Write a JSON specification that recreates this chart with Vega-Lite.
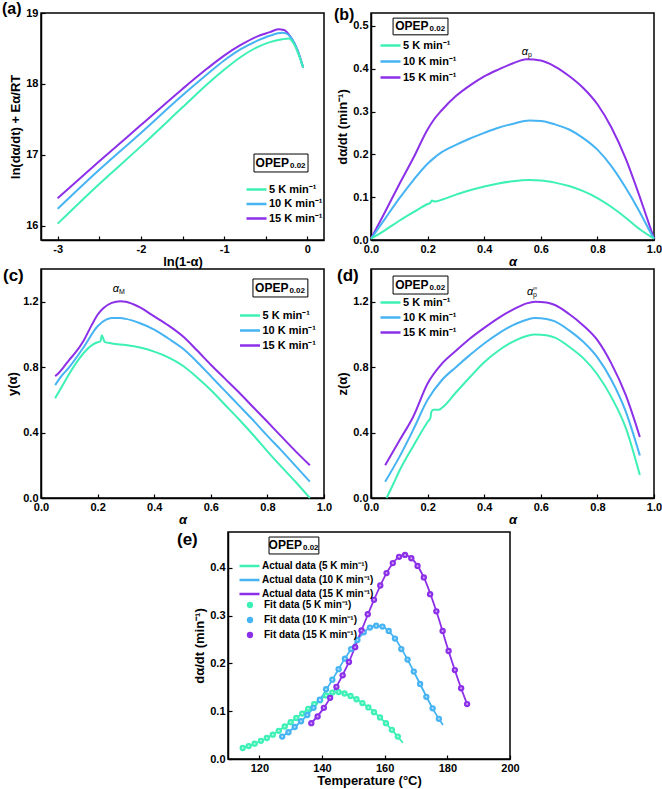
{
"$schema": "https://vega.github.io/schema/vega-lite/v6.json",
"background": "white",
"padding": {"left": 1, "top": 0, "right": 0, "bottom": 0},
"config": {
 "view": {"stroke": "black", "strokeWidth": 1.5},
 "font": "Liberation Sans",
 "axis": {"labelFont": "Liberation Sans", "labelFontWeight": "bold", "labelFontSize": 11, "labelColor": "black", "titleFont": "Liberation Sans", "titleFontWeight": "bold", "titleFontSize": 13, "titleColor": "black", "grid": false, "domainColor": "black", "domainWidth": 1.5, "tickColor": "black", "tickSize": -4, "tickWidth": 1.2, "labelPadding": 7, "labelOverlap": false, "labelFlush": false},
 "axisX": {"titlePadding": 1},
 "axisY": {"titlePadding": 3},
 "legend": {"labelFont": "Liberation Sans", "labelFontWeight": "bold", "labelFontSize": 11, "labelColor": "black", "symbolStrokeWidth": 2.5, "padding": 0, "titlePadding": 0, "labelLimit": 300},
 "title": {"font": "Liberation Sans", "fontWeight": "bold", "fontSize": 17, "color": "black", "anchor": "start", "frame": "group", "baseline": "top"}
},
"datasets": {
 "a": [
  {"x": -3.0, "y": 16.39, "r": "15 K min⁻¹"}, {"x": -2.5, "y": 16.91, "r": "15 K min⁻¹"}, {"x": -2.0, "y": 17.42, "r": "15 K min⁻¹"}, {"x": -1.5, "y": 17.93, "r": "15 K min⁻¹"}, {"x": -1.2, "y": 18.22, "r": "15 K min⁻¹"}, {"x": -1.0, "y": 18.40, "r": "15 K min⁻¹"}, {"x": -0.8, "y": 18.55, "r": "15 K min⁻¹"}, {"x": -0.6, "y": 18.67, "r": "15 K min⁻¹"}, {"x": -0.45, "y": 18.73, "r": "15 K min⁻¹"}, {"x": -0.35, "y": 18.77, "r": "15 K min⁻¹"}, {"x": -0.28, "y": 18.76, "r": "15 K min⁻¹"}, {"x": -0.2, "y": 18.66, "r": "15 K min⁻¹"}, {"x": -0.12, "y": 18.48, "r": "15 K min⁻¹"}, {"x": -0.05, "y": 18.23, "r": "15 K min⁻¹"},
  {"x": -3.0, "y": 16.24, "r": "10 K min⁻¹"}, {"x": -2.5, "y": 16.79, "r": "10 K min⁻¹"}, {"x": -2.0, "y": 17.31, "r": "10 K min⁻¹"}, {"x": -1.5, "y": 17.84, "r": "10 K min⁻¹"}, {"x": -1.2, "y": 18.14, "r": "10 K min⁻¹"}, {"x": -1.0, "y": 18.33, "r": "10 K min⁻¹"}, {"x": -0.8, "y": 18.49, "r": "10 K min⁻¹"}, {"x": -0.6, "y": 18.61, "r": "10 K min⁻¹"}, {"x": -0.45, "y": 18.68, "r": "10 K min⁻¹"}, {"x": -0.3, "y": 18.72, "r": "10 K min⁻¹"}, {"x": -0.25, "y": 18.71, "r": "10 K min⁻¹"}, {"x": -0.2, "y": 18.66, "r": "10 K min⁻¹"}, {"x": -0.12, "y": 18.48, "r": "10 K min⁻¹"}, {"x": -0.05, "y": 18.23, "r": "10 K min⁻¹"},
  {"x": -3.0, "y": 16.03, "r": "5 K min⁻¹"}, {"x": -2.5, "y": 16.59, "r": "5 K min⁻¹"}, {"x": -2.0, "y": 17.12, "r": "5 K min⁻¹"}, {"x": -1.5, "y": 17.67, "r": "5 K min⁻¹"}, {"x": -1.2, "y": 18.00, "r": "5 K min⁻¹"}, {"x": -1.0, "y": 18.20, "r": "5 K min⁻¹"}, {"x": -0.8, "y": 18.38, "r": "5 K min⁻¹"}, {"x": -0.6, "y": 18.52, "r": "5 K min⁻¹"}, {"x": -0.45, "y": 18.59, "r": "5 K min⁻¹"}, {"x": -0.3, "y": 18.63, "r": "5 K min⁻¹"}, {"x": -0.22, "y": 18.64, "r": "5 K min⁻¹"}, {"x": -0.17, "y": 18.58, "r": "5 K min⁻¹"}, {"x": -0.12, "y": 18.46, "r": "5 K min⁻¹"}, {"x": -0.05, "y": 18.23, "r": "5 K min⁻¹"}
 ],
 "b": [
  {"x": 0.0, "y": 0.003, "r": "15 K min⁻¹"}, {"x": 0.05, "y": 0.066, "r": "15 K min⁻¹"}, {"x": 0.1, "y": 0.13, "r": "15 K min⁻¹"}, {"x": 0.15, "y": 0.192, "r": "15 K min⁻¹"}, {"x": 0.2, "y": 0.258, "r": "15 K min⁻¹"}, {"x": 0.22, "y": 0.279, "r": "15 K min⁻¹"}, {"x": 0.25, "y": 0.303, "r": "15 K min⁻¹"}, {"x": 0.3, "y": 0.336, "r": "15 K min⁻¹"}, {"x": 0.35, "y": 0.361, "r": "15 K min⁻¹"}, {"x": 0.4, "y": 0.382, "r": "15 K min⁻¹"}, {"x": 0.45, "y": 0.398, "r": "15 K min⁻¹"}, {"x": 0.5, "y": 0.412, "r": "15 K min⁻¹"}, {"x": 0.55, "y": 0.422, "r": "15 K min⁻¹"}, {"x": 0.6, "y": 0.419, "r": "15 K min⁻¹"}, {"x": 0.65, "y": 0.405, "r": "15 K min⁻¹"}, {"x": 0.7, "y": 0.383, "r": "15 K min⁻¹"}, {"x": 0.75, "y": 0.355, "r": "15 K min⁻¹"}, {"x": 0.8, "y": 0.317, "r": "15 K min⁻¹"}, {"x": 0.85, "y": 0.262, "r": "15 K min⁻¹"}, {"x": 0.9, "y": 0.19, "r": "15 K min⁻¹"}, {"x": 0.95, "y": 0.1, "r": "15 K min⁻¹"}, {"x": 0.98, "y": 0.042, "r": "15 K min⁻¹"}, {"x": 1.0, "y": 0.003, "r": "15 K min⁻¹"},
  {"x": 0.0, "y": 0.003, "r": "10 K min⁻¹"}, {"x": 0.05, "y": 0.05, "r": "10 K min⁻¹"}, {"x": 0.1, "y": 0.097, "r": "10 K min⁻¹"}, {"x": 0.15, "y": 0.14, "r": "10 K min⁻¹"}, {"x": 0.2, "y": 0.178, "r": "10 K min⁻¹"}, {"x": 0.22, "y": 0.19, "r": "10 K min⁻¹"}, {"x": 0.25, "y": 0.205, "r": "10 K min⁻¹"}, {"x": 0.3, "y": 0.222, "r": "10 K min⁻¹"}, {"x": 0.35, "y": 0.237, "r": "10 K min⁻¹"}, {"x": 0.4, "y": 0.25, "r": "10 K min⁻¹"}, {"x": 0.45, "y": 0.262, "r": "10 K min⁻¹"}, {"x": 0.5, "y": 0.271, "r": "10 K min⁻¹"}, {"x": 0.56, "y": 0.279, "r": "10 K min⁻¹"}, {"x": 0.6, "y": 0.278, "r": "10 K min⁻¹"}, {"x": 0.65, "y": 0.27, "r": "10 K min⁻¹"}, {"x": 0.7, "y": 0.258, "r": "10 K min⁻¹"}, {"x": 0.75, "y": 0.238, "r": "10 K min⁻¹"}, {"x": 0.8, "y": 0.211, "r": "10 K min⁻¹"}, {"x": 0.85, "y": 0.172, "r": "10 K min⁻¹"}, {"x": 0.9, "y": 0.122, "r": "10 K min⁻¹"}, {"x": 0.95, "y": 0.065, "r": "10 K min⁻¹"}, {"x": 0.98, "y": 0.027, "r": "10 K min⁻¹"}, {"x": 1.0, "y": 0.003, "r": "10 K min⁻¹"},
  {"x": 0.0, "y": 0.003, "r": "5 K min⁻¹"}, {"x": 0.05, "y": 0.023, "r": "5 K min⁻¹"}, {"x": 0.1, "y": 0.045, "r": "5 K min⁻¹"}, {"x": 0.15, "y": 0.065, "r": "5 K min⁻¹"}, {"x": 0.2, "y": 0.084, "r": "5 K min⁻¹"}, {"x": 0.21, "y": 0.087, "r": "5 K min⁻¹"}, {"x": 0.215, "y": 0.092, "r": "5 K min⁻¹"}, {"x": 0.225, "y": 0.09, "r": "5 K min⁻¹"}, {"x": 0.25, "y": 0.094, "r": "5 K min⁻¹"}, {"x": 0.3, "y": 0.106, "r": "5 K min⁻¹"}, {"x": 0.35, "y": 0.116, "r": "5 K min⁻¹"}, {"x": 0.4, "y": 0.125, "r": "5 K min⁻¹"}, {"x": 0.45, "y": 0.132, "r": "5 K min⁻¹"}, {"x": 0.5, "y": 0.137, "r": "5 K min⁻¹"}, {"x": 0.56, "y": 0.14, "r": "5 K min⁻¹"}, {"x": 0.6, "y": 0.139, "r": "5 K min⁻¹"}, {"x": 0.65, "y": 0.134, "r": "5 K min⁻¹"}, {"x": 0.7, "y": 0.126, "r": "5 K min⁻¹"}, {"x": 0.75, "y": 0.114, "r": "5 K min⁻¹"}, {"x": 0.8, "y": 0.098, "r": "5 K min⁻¹"}, {"x": 0.85, "y": 0.077, "r": "5 K min⁻¹"}, {"x": 0.9, "y": 0.052, "r": "5 K min⁻¹"}, {"x": 0.95, "y": 0.025, "r": "5 K min⁻¹"}, {"x": 1.0, "y": 0.003, "r": "5 K min⁻¹"}
 ],
 "c": [
  {"x": 0.05, "y": 0.745, "r": "15 K min⁻¹"}, {"x": 0.06, "y": 0.76, "r": "15 K min⁻¹"}, {"x": 0.08, "y": 0.8, "r": "15 K min⁻¹"}, {"x": 0.1, "y": 0.845, "r": "15 K min⁻¹"}, {"x": 0.12, "y": 0.885, "r": "15 K min⁻¹"}, {"x": 0.15, "y": 0.96, "r": "15 K min⁻¹"}, {"x": 0.18, "y": 1.06, "r": "15 K min⁻¹"}, {"x": 0.2, "y": 1.12, "r": "15 K min⁻¹"}, {"x": 0.22, "y": 1.16, "r": "15 K min⁻¹"}, {"x": 0.25, "y": 1.193, "r": "15 K min⁻¹"}, {"x": 0.28, "y": 1.203, "r": "15 K min⁻¹"}, {"x": 0.3, "y": 1.2, "r": "15 K min⁻¹"}, {"x": 0.35, "y": 1.165, "r": "15 K min⁻¹"}, {"x": 0.4, "y": 1.11, "r": "15 K min⁻¹"}, {"x": 0.45, "y": 1.055, "r": "15 K min⁻¹"}, {"x": 0.5, "y": 0.99, "r": "15 K min⁻¹"}, {"x": 0.55, "y": 0.905, "r": "15 K min⁻¹"}, {"x": 0.6, "y": 0.815, "r": "15 K min⁻¹"}, {"x": 0.65, "y": 0.73, "r": "15 K min⁻¹"}, {"x": 0.7, "y": 0.645, "r": "15 K min⁻¹"}, {"x": 0.75, "y": 0.555, "r": "15 K min⁻¹"}, {"x": 0.8, "y": 0.466, "r": "15 K min⁻¹"}, {"x": 0.85, "y": 0.375, "r": "15 K min⁻¹"}, {"x": 0.9, "y": 0.285, "r": "15 K min⁻¹"}, {"x": 0.95, "y": 0.2, "r": "15 K min⁻¹"},
  {"x": 0.05, "y": 0.69, "r": "10 K min⁻¹"}, {"x": 0.07, "y": 0.74, "r": "10 K min⁻¹"}, {"x": 0.1, "y": 0.8, "r": "10 K min⁻¹"}, {"x": 0.15, "y": 0.92, "r": "10 K min⁻¹"}, {"x": 0.2, "y": 1.05, "r": "10 K min⁻¹"}, {"x": 0.23, "y": 1.09, "r": "10 K min⁻¹"}, {"x": 0.25, "y": 1.1, "r": "10 K min⁻¹"}, {"x": 0.28, "y": 1.1, "r": "10 K min⁻¹"}, {"x": 0.3, "y": 1.095, "r": "10 K min⁻¹"}, {"x": 0.35, "y": 1.068, "r": "10 K min⁻¹"}, {"x": 0.4, "y": 1.03, "r": "10 K min⁻¹"}, {"x": 0.45, "y": 0.975, "r": "10 K min⁻¹"}, {"x": 0.5, "y": 0.915, "r": "10 K min⁻¹"}, {"x": 0.55, "y": 0.835, "r": "10 K min⁻¹"}, {"x": 0.6, "y": 0.745, "r": "10 K min⁻¹"}, {"x": 0.65, "y": 0.655, "r": "10 K min⁻¹"}, {"x": 0.7, "y": 0.565, "r": "10 K min⁻¹"}, {"x": 0.75, "y": 0.475, "r": "10 K min⁻¹"}, {"x": 0.8, "y": 0.38, "r": "10 K min⁻¹"}, {"x": 0.85, "y": 0.29, "r": "10 K min⁻¹"}, {"x": 0.9, "y": 0.195, "r": "10 K min⁻¹"}, {"x": 0.95, "y": 0.1, "r": "10 K min⁻¹"},
  {"x": 0.05, "y": 0.61, "r": "5 K min⁻¹"}, {"x": 0.07, "y": 0.67, "r": "5 K min⁻¹"}, {"x": 0.1, "y": 0.76, "r": "5 K min⁻¹"}, {"x": 0.13, "y": 0.84, "r": "5 K min⁻¹"}, {"x": 0.15, "y": 0.885, "r": "5 K min⁻¹"}, {"x": 0.18, "y": 0.935, "r": "5 K min⁻¹"}, {"x": 0.2, "y": 0.952, "r": "5 K min⁻¹"}, {"x": 0.21, "y": 0.957, "r": "5 K min⁻¹"}, {"x": 0.215, "y": 0.995, "r": "5 K min⁻¹"}, {"x": 0.22, "y": 0.975, "r": "5 K min⁻¹"}, {"x": 0.225, "y": 0.955, "r": "5 K min⁻¹"}, {"x": 0.25, "y": 0.945, "r": "5 K min⁻¹"}, {"x": 0.3, "y": 0.935, "r": "5 K min⁻¹"}, {"x": 0.35, "y": 0.92, "r": "5 K min⁻¹"}, {"x": 0.4, "y": 0.895, "r": "5 K min⁻¹"}, {"x": 0.45, "y": 0.86, "r": "5 K min⁻¹"}, {"x": 0.5, "y": 0.81, "r": "5 K min⁻¹"}, {"x": 0.55, "y": 0.74, "r": "5 K min⁻¹"}, {"x": 0.6, "y": 0.66, "r": "5 K min⁻¹"}, {"x": 0.65, "y": 0.57, "r": "5 K min⁻¹"}, {"x": 0.7, "y": 0.48, "r": "5 K min⁻¹"}, {"x": 0.75, "y": 0.385, "r": "5 K min⁻¹"}, {"x": 0.8, "y": 0.285, "r": "5 K min⁻¹"}, {"x": 0.85, "y": 0.19, "r": "5 K min⁻¹"}, {"x": 0.9, "y": 0.098, "r": "5 K min⁻¹"}, {"x": 0.95, "y": 0.0, "r": "5 K min⁻¹"}
 ],
 "d": [
  {"x": 0.05, "y": 0.2, "r": "15 K min⁻¹"}, {"x": 0.1, "y": 0.35, "r": "15 K min⁻¹"}, {"x": 0.15, "y": 0.5, "r": "15 K min⁻¹"}, {"x": 0.2, "y": 0.7, "r": "15 K min⁻¹"}, {"x": 0.25, "y": 0.82, "r": "15 K min⁻¹"}, {"x": 0.3, "y": 0.9, "r": "15 K min⁻¹"}, {"x": 0.35, "y": 0.975, "r": "15 K min⁻¹"}, {"x": 0.4, "y": 1.04, "r": "15 K min⁻¹"}, {"x": 0.45, "y": 1.1, "r": "15 K min⁻¹"}, {"x": 0.5, "y": 1.15, "r": "15 K min⁻¹"}, {"x": 0.55, "y": 1.19, "r": "15 K min⁻¹"}, {"x": 0.58, "y": 1.2, "r": "15 K min⁻¹"}, {"x": 0.62, "y": 1.195, "r": "15 K min⁻¹"}, {"x": 0.65, "y": 1.18, "r": "15 K min⁻¹"}, {"x": 0.7, "y": 1.125, "r": "15 K min⁻¹"}, {"x": 0.75, "y": 1.055, "r": "15 K min⁻¹"}, {"x": 0.8, "y": 0.965, "r": "15 K min⁻¹"}, {"x": 0.85, "y": 0.82, "r": "15 K min⁻¹"}, {"x": 0.9, "y": 0.63, "r": "15 K min⁻¹"}, {"x": 0.95, "y": 0.373, "r": "15 K min⁻¹"},
  {"x": 0.05, "y": 0.1, "r": "10 K min⁻¹"}, {"x": 0.1, "y": 0.25, "r": "10 K min⁻¹"}, {"x": 0.15, "y": 0.42, "r": "10 K min⁻¹"}, {"x": 0.2, "y": 0.6, "r": "10 K min⁻¹"}, {"x": 0.25, "y": 0.72, "r": "10 K min⁻¹"}, {"x": 0.3, "y": 0.8, "r": "10 K min⁻¹"}, {"x": 0.35, "y": 0.875, "r": "10 K min⁻¹"}, {"x": 0.4, "y": 0.945, "r": "10 K min⁻¹"}, {"x": 0.45, "y": 1.005, "r": "10 K min⁻¹"}, {"x": 0.5, "y": 1.055, "r": "10 K min⁻¹"}, {"x": 0.55, "y": 1.09, "r": "10 K min⁻¹"}, {"x": 0.58, "y": 1.1, "r": "10 K min⁻¹"}, {"x": 0.62, "y": 1.095, "r": "10 K min⁻¹"}, {"x": 0.65, "y": 1.08, "r": "10 K min⁻¹"}, {"x": 0.7, "y": 1.025, "r": "10 K min⁻¹"}, {"x": 0.75, "y": 0.955, "r": "10 K min⁻¹"}, {"x": 0.8, "y": 0.86, "r": "10 K min⁻¹"}, {"x": 0.85, "y": 0.72, "r": "10 K min⁻¹"}, {"x": 0.9, "y": 0.53, "r": "10 K min⁻¹"}, {"x": 0.95, "y": 0.26, "r": "10 K min⁻¹"},
  {"x": 0.055, "y": 0.0, "r": "5 K min⁻¹"}, {"x": 0.08, "y": 0.09, "r": "5 K min⁻¹"}, {"x": 0.1, "y": 0.165, "r": "5 K min⁻¹"}, {"x": 0.15, "y": 0.32, "r": "5 K min⁻¹"}, {"x": 0.2, "y": 0.465, "r": "5 K min⁻¹"}, {"x": 0.21, "y": 0.49, "r": "5 K min⁻¹"}, {"x": 0.213, "y": 0.525, "r": "5 K min⁻¹"}, {"x": 0.22, "y": 0.54, "r": "5 K min⁻¹"}, {"x": 0.24, "y": 0.54, "r": "5 K min⁻¹"}, {"x": 0.25, "y": 0.55, "r": "5 K min⁻¹"}, {"x": 0.3, "y": 0.645, "r": "5 K min⁻¹"}, {"x": 0.35, "y": 0.74, "r": "5 K min⁻¹"}, {"x": 0.4, "y": 0.83, "r": "5 K min⁻¹"}, {"x": 0.45, "y": 0.9, "r": "5 K min⁻¹"}, {"x": 0.5, "y": 0.955, "r": "5 K min⁻¹"}, {"x": 0.55, "y": 0.99, "r": "5 K min⁻¹"}, {"x": 0.58, "y": 1.0, "r": "5 K min⁻¹"}, {"x": 0.62, "y": 0.995, "r": "5 K min⁻¹"}, {"x": 0.65, "y": 0.98, "r": "5 K min⁻¹"}, {"x": 0.7, "y": 0.925, "r": "5 K min⁻¹"}, {"x": 0.75, "y": 0.855, "r": "5 K min⁻¹"}, {"x": 0.8, "y": 0.755, "r": "5 K min⁻¹"}, {"x": 0.85, "y": 0.615, "r": "5 K min⁻¹"}, {"x": 0.9, "y": 0.43, "r": "5 K min⁻¹"}, {"x": 0.95, "y": 0.14, "r": "5 K min⁻¹"}
 ],
 "efit": [
  {"T": 114.7, "v": 0.023, "s": "Fit data (5 K min⁻¹)"}, {"T": 116.6, "v": 0.027, "s": "Fit data (5 K min⁻¹)"}, {"T": 118.5, "v": 0.032, "s": "Fit data (5 K min⁻¹)"}, {"T": 120.5, "v": 0.038, "s": "Fit data (5 K min⁻¹)"}, {"T": 122.4, "v": 0.044, "s": "Fit data (5 K min⁻¹)"}, {"T": 124.3, "v": 0.051, "s": "Fit data (5 K min⁻¹)"}, {"T": 126.2, "v": 0.059, "s": "Fit data (5 K min⁻¹)"}, {"T": 128.1, "v": 0.068, "s": "Fit data (5 K min⁻¹)"}, {"T": 130.0, "v": 0.077, "s": "Fit data (5 K min⁻¹)"}, {"T": 131.8, "v": 0.086, "s": "Fit data (5 K min⁻¹)"}, {"T": 133.7, "v": 0.095, "s": "Fit data (5 K min⁻¹)"}, {"T": 135.6, "v": 0.105, "s": "Fit data (5 K min⁻¹)"}, {"T": 137.5, "v": 0.115, "s": "Fit data (5 K min⁻¹)"}, {"T": 139.4, "v": 0.123, "s": "Fit data (5 K min⁻¹)"}, {"T": 141.3, "v": 0.133, "s": "Fit data (5 K min⁻¹)"}, {"T": 143.3, "v": 0.139, "s": "Fit data (5 K min⁻¹)"}, {"T": 145.3, "v": 0.14, "s": "Fit data (5 K min⁻¹)"}, {"T": 147.2, "v": 0.137, "s": "Fit data (5 K min⁻¹)"}, {"T": 149.1, "v": 0.132, "s": "Fit data (5 K min⁻¹)"}, {"T": 151.0, "v": 0.125, "s": "Fit data (5 K min⁻¹)"}, {"T": 152.9, "v": 0.117, "s": "Fit data (5 K min⁻¹)"}, {"T": 154.8, "v": 0.108, "s": "Fit data (5 K min⁻¹)"}, {"T": 156.6, "v": 0.098, "s": "Fit data (5 K min⁻¹)"}, {"T": 158.5, "v": 0.087, "s": "Fit data (5 K min⁻¹)"}, {"T": 160.4, "v": 0.075, "s": "Fit data (5 K min⁻¹)"}, {"T": 162.3, "v": 0.061, "s": "Fit data (5 K min⁻¹)"}, {"T": 164.2, "v": 0.047, "s": "Fit data (5 K min⁻¹)"},
  {"T": 127.3, "v": 0.047, "s": "Fit data (10 K min⁻¹)"}, {"T": 129.3, "v": 0.056, "s": "Fit data (10 K min⁻¹)"}, {"T": 131.3, "v": 0.067, "s": "Fit data (10 K min⁻¹)"}, {"T": 133.3, "v": 0.079, "s": "Fit data (10 K min⁻¹)"}, {"T": 135.3, "v": 0.092, "s": "Fit data (10 K min⁻¹)"}, {"T": 137.3, "v": 0.107, "s": "Fit data (10 K min⁻¹)"}, {"T": 139.3, "v": 0.124, "s": "Fit data (10 K min⁻¹)"}, {"T": 141.3, "v": 0.146, "s": "Fit data (10 K min⁻¹)"}, {"T": 143.3, "v": 0.166, "s": "Fit data (10 K min⁻¹)"}, {"T": 145.3, "v": 0.188, "s": "Fit data (10 K min⁻¹)"}, {"T": 147.3, "v": 0.21, "s": "Fit data (10 K min⁻¹)"}, {"T": 149.3, "v": 0.23, "s": "Fit data (10 K min⁻¹)"}, {"T": 151.3, "v": 0.249, "s": "Fit data (10 K min⁻¹)"}, {"T": 153.3, "v": 0.265, "s": "Fit data (10 K min⁻¹)"}, {"T": 155.3, "v": 0.275, "s": "Fit data (10 K min⁻¹)"}, {"T": 157.3, "v": 0.279, "s": "Fit data (10 K min⁻¹)"}, {"T": 159.3, "v": 0.277, "s": "Fit data (10 K min⁻¹)"}, {"T": 161.3, "v": 0.268, "s": "Fit data (10 K min⁻¹)"}, {"T": 163.3, "v": 0.252, "s": "Fit data (10 K min⁻¹)"}, {"T": 165.3, "v": 0.23, "s": "Fit data (10 K min⁻¹)"}, {"T": 167.3, "v": 0.208, "s": "Fit data (10 K min⁻¹)"}, {"T": 169.3, "v": 0.183, "s": "Fit data (10 K min⁻¹)"}, {"T": 171.3, "v": 0.157, "s": "Fit data (10 K min⁻¹)"}, {"T": 173.3, "v": 0.13, "s": "Fit data (10 K min⁻¹)"}, {"T": 175.3, "v": 0.106, "s": "Fit data (10 K min⁻¹)"}, {"T": 177.3, "v": 0.084, "s": "Fit data (10 K min⁻¹)"},
  {"T": 136.6, "v": 0.075, "s": "Fit data (15 K min⁻¹)"}, {"T": 138.6, "v": 0.089, "s": "Fit data (15 K min⁻¹)"}, {"T": 140.6, "v": 0.107, "s": "Fit data (15 K min⁻¹)"}, {"T": 142.6, "v": 0.128, "s": "Fit data (15 K min⁻¹)"}, {"T": 144.6, "v": 0.151, "s": "Fit data (15 K min⁻¹)"}, {"T": 146.6, "v": 0.175, "s": "Fit data (15 K min⁻¹)"}, {"T": 148.6, "v": 0.203, "s": "Fit data (15 K min⁻¹)"}, {"T": 150.6, "v": 0.234, "s": "Fit data (15 K min⁻¹)"}, {"T": 152.6, "v": 0.269, "s": "Fit data (15 K min⁻¹)"}, {"T": 154.6, "v": 0.303, "s": "Fit data (15 K min⁻¹)"}, {"T": 156.6, "v": 0.333, "s": "Fit data (15 K min⁻¹)"}, {"T": 158.6, "v": 0.363, "s": "Fit data (15 K min⁻¹)"}, {"T": 160.6, "v": 0.389, "s": "Fit data (15 K min⁻¹)"}, {"T": 162.6, "v": 0.41, "s": "Fit data (15 K min⁻¹)"}, {"T": 164.6, "v": 0.423, "s": "Fit data (15 K min⁻¹)"}, {"T": 166.5, "v": 0.427, "s": "Fit data (15 K min⁻¹)"}, {"T": 168.5, "v": 0.42, "s": "Fit data (15 K min⁻¹)"}, {"T": 170.5, "v": 0.404, "s": "Fit data (15 K min⁻¹)"}, {"T": 172.5, "v": 0.38, "s": "Fit data (15 K min⁻¹)"}, {"T": 174.5, "v": 0.345, "s": "Fit data (15 K min⁻¹)"}, {"T": 176.5, "v": 0.309, "s": "Fit data (15 K min⁻¹)"}, {"T": 178.5, "v": 0.268, "s": "Fit data (15 K min⁻¹)"}, {"T": 180.4, "v": 0.226, "s": "Fit data (15 K min⁻¹)"}, {"T": 182.4, "v": 0.186, "s": "Fit data (15 K min⁻¹)"}, {"T": 184.4, "v": 0.148, "s": "Fit data (15 K min⁻¹)"}, {"T": 186.3, "v": 0.115, "s": "Fit data (15 K min⁻¹)"}
 ],
 "eline": [
  {"T": 114.7, "v": 0.023, "s": "Actual data (5 K min⁻¹)"}, {"T": 118.5, "v": 0.032, "s": "Actual data (5 K min⁻¹)"}, {"T": 122.4, "v": 0.044, "s": "Actual data (5 K min⁻¹)"}, {"T": 126.2, "v": 0.059, "s": "Actual data (5 K min⁻¹)"}, {"T": 130.0, "v": 0.077, "s": "Actual data (5 K min⁻¹)"}, {"T": 133.7, "v": 0.095, "s": "Actual data (5 K min⁻¹)"}, {"T": 137.5, "v": 0.115, "s": "Actual data (5 K min⁻¹)"}, {"T": 141.3, "v": 0.133, "s": "Actual data (5 K min⁻¹)"}, {"T": 143.3, "v": 0.139, "s": "Actual data (5 K min⁻¹)"}, {"T": 145.3, "v": 0.14, "s": "Actual data (5 K min⁻¹)"}, {"T": 147.2, "v": 0.137, "s": "Actual data (5 K min⁻¹)"}, {"T": 151.0, "v": 0.125, "s": "Actual data (5 K min⁻¹)"}, {"T": 154.8, "v": 0.108, "s": "Actual data (5 K min⁻¹)"}, {"T": 158.5, "v": 0.087, "s": "Actual data (5 K min⁻¹)"}, {"T": 162.3, "v": 0.061, "s": "Actual data (5 K min⁻¹)"}, {"T": 165.8, "v": 0.034, "s": "Actual data (5 K min⁻¹)"},
  {"T": 127.3, "v": 0.047, "s": "Actual data (10 K min⁻¹)"}, {"T": 131.3, "v": 0.067, "s": "Actual data (10 K min⁻¹)"}, {"T": 135.3, "v": 0.092, "s": "Actual data (10 K min⁻¹)"}, {"T": 139.3, "v": 0.124, "s": "Actual data (10 K min⁻¹)"}, {"T": 143.3, "v": 0.166, "s": "Actual data (10 K min⁻¹)"}, {"T": 147.3, "v": 0.21, "s": "Actual data (10 K min⁻¹)"}, {"T": 151.3, "v": 0.249, "s": "Actual data (10 K min⁻¹)"}, {"T": 155.3, "v": 0.275, "s": "Actual data (10 K min⁻¹)"}, {"T": 157.3, "v": 0.279, "s": "Actual data (10 K min⁻¹)"}, {"T": 159.3, "v": 0.277, "s": "Actual data (10 K min⁻¹)"}, {"T": 163.3, "v": 0.252, "s": "Actual data (10 K min⁻¹)"}, {"T": 167.3, "v": 0.208, "s": "Actual data (10 K min⁻¹)"}, {"T": 171.3, "v": 0.157, "s": "Actual data (10 K min⁻¹)"}, {"T": 175.3, "v": 0.106, "s": "Actual data (10 K min⁻¹)"}, {"T": 178.6, "v": 0.071, "s": "Actual data (10 K min⁻¹)"},
  {"T": 136.6, "v": 0.075, "s": "Actual data (15 K min⁻¹)"}, {"T": 140.6, "v": 0.107, "s": "Actual data (15 K min⁻¹)"}, {"T": 144.6, "v": 0.151, "s": "Actual data (15 K min⁻¹)"}, {"T": 148.6, "v": 0.203, "s": "Actual data (15 K min⁻¹)"}, {"T": 152.6, "v": 0.269, "s": "Actual data (15 K min⁻¹)"}, {"T": 156.6, "v": 0.333, "s": "Actual data (15 K min⁻¹)"}, {"T": 160.6, "v": 0.389, "s": "Actual data (15 K min⁻¹)"}, {"T": 164.6, "v": 0.423, "s": "Actual data (15 K min⁻¹)"}, {"T": 166.5, "v": 0.427, "s": "Actual data (15 K min⁻¹)"}, {"T": 168.5, "v": 0.42, "s": "Actual data (15 K min⁻¹)"}, {"T": 172.5, "v": 0.38, "s": "Actual data (15 K min⁻¹)"}, {"T": 176.5, "v": 0.309, "s": "Actual data (15 K min⁻¹)"}, {"T": 180.4, "v": 0.226, "s": "Actual data (15 K min⁻¹)"}, {"T": 184.4, "v": 0.148, "s": "Actual data (15 K min⁻¹)"}, {"T": 186.3, "v": 0.115, "s": "Actual data (15 K min⁻¹)"}
 ]
},
"vconcat": [
 {"vconcat": [
 {"hconcat": [
  {"width": 283, "height": 227,
   "title": {"text": "(a)", "dx": -39, "offset": -10, "fontSize": 16},
   "layer": [
    {"data": {"name": "a"}, "mark": {"type": "line", "strokeWidth": 2, "interpolate": "monotone"},
     "encoding": {
      "x": {"field": "x", "type": "quantitative", "scale": {"domain": [-3.2, 0.2], "nice": false}, "axis": {"title": "ln(1-α)", "values": [-3, -2.5, -2, -1.5, -1, -0.5, 0], "labelExpr": "datum.value % 1 == 0 ? replace(format(datum.value, 'd'), '−', '-') : ''"}},
      "y": {"field": "y", "type": "quantitative", "scale": {"domain": [15.8, 19], "nice": false, "zero": false}, "axis": {"title": "ln(dα/dt) + Eα/RT", "values": [16, 16.5, 17, 17.5, 18, 18.5, 19], "labelExpr": "datum.value % 1 == 0 ? format(datum.value, 'd') : ''"}},
      "color": {"field": "r", "type": "nominal", "scale": {"domain": ["5 K min⁻¹", "10 K min⁻¹", "15 K min⁻¹"], "range": ["#3DF0B5", "#46B3F2", "#8C2FE8"]}, "legend": {"orient": "none", "legendX": 209, "legendY": 170, "title": null, "symbolType": "M-2,0H2", "symbolSize": 100, "rowPadding": 2.5, "labelOffset": 6}}
     }},
    {"data": {"values": [{}]}, "mark": {"type": "rect", "fill": "#777777", "xOffset": 2, "yOffset": 2},
     "encoding": {"x": {"datum": -0.641}, "x2": {"datum": 0.008}, "y": {"datum": 17.012}, "y2": {"datum": 16.759}}},
    {"data": {"values": [{}]}, "mark": {"type": "rect", "fill": "white", "stroke": "black", "strokeWidth": 1},
     "encoding": {"x": {"datum": -0.641}, "x2": {"datum": 0.008}, "y": {"datum": 17.012}, "y2": {"datum": 16.759}}},
    {"data": {"values": [{}]}, "mark": {"type": "text", "text": "OPEP", "align": "right", "baseline": "middle", "dx": 8, "fontSize": 12, "fontWeight": "bold"},
     "encoding": {"x": {"datum": -0.317}, "y": {"datum": 16.885}}},
    {"data": {"values": [{}]}, "mark": {"type": "text", "text": "0.02", "align": "left", "baseline": "middle", "dx": 9, "dy": 3, "fontSize": 8, "fontWeight": "bold"},
     "encoding": {"x": {"datum": -0.317}, "y": {"datum": 16.885}}}
   ]},
  {"width": 283, "height": 227,
   "title": {"text": "(b)", "dx": -37, "offset": -10, "fontSize": 16},
   "layer": [
    {"data": {"name": "b"}, "mark": {"type": "line", "strokeWidth": 2, "interpolate": "monotone"},
     "encoding": {
      "x": {"field": "x", "type": "quantitative", "scale": {"domain": [0, 1], "nice": false}, "axis": {"title": "α", "titleFontStyle": "italic", "values": [0, 0.1, 0.2, 0.3, 0.4, 0.5, 0.6, 0.7, 0.8, 0.9, 1.0], "labelExpr": "round(datum.value*10) % 2 == 0 ? format(datum.value, '.1f') : ''"}},
      "y": {"field": "y", "type": "quantitative", "scale": {"domain": [0, 0.53], "nice": false}, "axis": {"title": "dα/dt (min⁻¹)", "values": [0, 0.05, 0.1, 0.15, 0.2, 0.25, 0.3, 0.35, 0.4, 0.45, 0.5], "labelExpr": "round(datum.value*100) % 10 == 0 ? format(datum.value, '.1f') : ''"}},
      "color": {"field": "r", "type": "nominal", "scale": {"domain": ["5 K min⁻¹", "10 K min⁻¹", "15 K min⁻¹"], "range": ["#3DF0B5", "#46B3F2", "#8C2FE8"]}, "legend": {"orient": "none", "legendX": 13, "legendY": 26, "title": null, "symbolType": "M-2,0H2", "symbolSize": 100, "rowPadding": 4, "labelOffset": 6}}
     }},
    {"data": {"values": [{}]}, "mark": {"type": "rect", "fill": "#777777", "xOffset": 2, "yOffset": 2},
     "encoding": {"x": {"datum": 0.078}, "x2": {"datum": 0.272}, "y": {"datum": 0.518}, "y2": {"datum": 0.479}}},
    {"data": {"values": [{}]}, "mark": {"type": "rect", "fill": "white", "stroke": "black", "strokeWidth": 1},
     "encoding": {"x": {"datum": 0.078}, "x2": {"datum": 0.272}, "y": {"datum": 0.518}, "y2": {"datum": 0.479}}},
    {"data": {"values": [{}]}, "mark": {"type": "text", "text": "OPEP", "align": "right", "baseline": "middle", "dx": 8, "fontSize": 12, "fontWeight": "bold"},
     "encoding": {"x": {"datum": 0.175}, "y": {"datum": 0.4985}}},
    {"data": {"values": [{}]}, "mark": {"type": "text", "text": "0.02", "align": "left", "baseline": "middle", "dx": 9, "dy": 3, "fontSize": 8, "fontWeight": "bold"},
     "encoding": {"x": {"datum": 0.175}, "y": {"datum": 0.4985}}},
    {"data": {"values": [{}]}, "mark": {"type": "text", "text": "α", "align": "center", "baseline": "middle", "fontSize": 11, "fontStyle": "italic"},
     "encoding": {"x": {"datum": 0.544}, "y": {"datum": 0.438}}},
    {"data": {"values": [{}]}, "mark": {"type": "text", "text": "p", "align": "left", "baseline": "middle", "dx": 3, "dy": 3, "fontSize": 7},
     "encoding": {"x": {"datum": 0.544}, "y": {"datum": 0.438}}}
   ]}
 ], "spacing": 47, "bounds": "flush", "resolve": {"scale": {"color": "independent"}, "legend": {"color": "independent"}}},
 {"hconcat": [
  {"width": 283, "height": 229,
   "title": {"text": "(c)", "dx": -38, "offset": -16},
   "layer": [
    {"data": {"name": "c"}, "mark": {"type": "line", "strokeWidth": 2, "interpolate": "monotone"},
     "encoding": {
      "x": {"field": "x", "type": "quantitative", "scale": {"domain": [0, 1], "nice": false}, "axis": {"title": "α", "titleFontStyle": "italic", "values": [0, 0.1, 0.2, 0.3, 0.4, 0.5, 0.6, 0.7, 0.8, 0.9, 1.0], "labelExpr": "round(datum.value*10) % 2 == 0 ? format(datum.value, '.1f') : ''"}},
      "y": {"field": "y", "type": "quantitative", "scale": {"domain": [0, 1.4], "nice": false}, "axis": {"title": "y(α)", "values": [0, 0.2, 0.4, 0.6, 0.8, 1.0, 1.2], "labelExpr": "round(datum.value*10) % 4 == 0 ? format(datum.value, '.1f') : ''"}},
      "color": {"field": "r", "type": "nominal", "scale": {"domain": ["5 K min⁻¹", "10 K min⁻¹", "15 K min⁻¹"], "range": ["#3DF0B5", "#46B3F2", "#8C2FE8"]}, "legend": {"orient": "none", "legendX": 202.5, "legendY": 40, "title": null, "symbolType": "M-2,0H2", "symbolSize": 100, "rowPadding": 3, "labelOffset": 6}}
     }},
    {"data": {"values": [{}]}, "mark": {"type": "rect", "fill": "#777777", "xOffset": 2, "yOffset": 2},
     "encoding": {"x": {"datum": 0.749}, "x2": {"datum": 0.943}, "y": {"datum": 1.339}, "y2": {"datum": 1.229}}},
    {"data": {"values": [{}]}, "mark": {"type": "rect", "fill": "white", "stroke": "black", "strokeWidth": 1},
     "encoding": {"x": {"datum": 0.749}, "x2": {"datum": 0.943}, "y": {"datum": 1.339}, "y2": {"datum": 1.229}}},
    {"data": {"values": [{}]}, "mark": {"type": "text", "text": "OPEP", "align": "right", "baseline": "middle", "dx": 8, "fontSize": 12, "fontWeight": "bold"},
     "encoding": {"x": {"datum": 0.846}, "y": {"datum": 1.284}}},
    {"data": {"values": [{}]}, "mark": {"type": "text", "text": "0.02", "align": "left", "baseline": "middle", "dx": 9, "dy": 3, "fontSize": 8, "fontWeight": "bold"},
     "encoding": {"x": {"datum": 0.846}, "y": {"datum": 1.284}}},
    {"data": {"values": [{}]}, "mark": {"type": "text", "text": "α", "align": "center", "baseline": "middle", "fontSize": 11, "fontStyle": "italic"},
     "encoding": {"x": {"datum": 0.265}, "y": {"datum": 1.275}}},
    {"data": {"values": [{}]}, "mark": {"type": "text", "text": "M", "align": "left", "baseline": "middle", "dx": 3, "dy": 3, "fontSize": 7},
     "encoding": {"x": {"datum": 0.265}, "y": {"datum": 1.275}}}
   ]},
  {"width": 283, "height": 229,
   "title": {"text": "(d)", "dx": -34, "offset": -16},
   "layer": [
    {"data": {"name": "d"}, "mark": {"type": "line", "strokeWidth": 2, "interpolate": "monotone"},
     "encoding": {
      "x": {"field": "x", "type": "quantitative", "scale": {"domain": [0, 1], "nice": false}, "axis": {"title": "α", "titleFontStyle": "italic", "values": [0, 0.1, 0.2, 0.3, 0.4, 0.5, 0.6, 0.7, 0.8, 0.9, 1.0], "labelExpr": "round(datum.value*10) % 2 == 0 ? format(datum.value, '.1f') : ''"}},
      "y": {"field": "y", "type": "quantitative", "scale": {"domain": [0, 1.4], "nice": false}, "axis": {"title": "z(α)", "values": [0, 0.2, 0.4, 0.6, 0.8, 1.0, 1.2], "labelExpr": "round(datum.value*10) % 4 == 0 ? format(datum.value, '.1f') : ''"}},
      "color": {"field": "r", "type": "nominal", "scale": {"domain": ["5 K min⁻¹", "10 K min⁻¹", "15 K min⁻¹"], "range": ["#3DF0B5", "#46B3F2", "#8C2FE8"]}, "legend": {"orient": "none", "legendX": 13, "legendY": 27, "title": null, "symbolType": "M-2,0H2", "symbolSize": 100, "rowPadding": 3, "labelOffset": 6}}
     }},
    {"data": {"values": [{}]}, "mark": {"type": "rect", "fill": "#777777", "xOffset": 2, "yOffset": 2},
     "encoding": {"x": {"datum": 0.078}, "x2": {"datum": 0.272}, "y": {"datum": 1.357}, "y2": {"datum": 1.247}}},
    {"data": {"values": [{}]}, "mark": {"type": "rect", "fill": "white", "stroke": "black", "strokeWidth": 1},
     "encoding": {"x": {"datum": 0.078}, "x2": {"datum": 0.272}, "y": {"datum": 1.357}, "y2": {"datum": 1.247}}},
    {"data": {"values": [{}]}, "mark": {"type": "text", "text": "OPEP", "align": "right", "baseline": "middle", "dx": 8, "fontSize": 12, "fontWeight": "bold"},
     "encoding": {"x": {"datum": 0.175}, "y": {"datum": 1.302}}},
    {"data": {"values": [{}]}, "mark": {"type": "text", "text": "0.02", "align": "left", "baseline": "middle", "dx": 9, "dy": 3, "fontSize": 8, "fontWeight": "bold"},
     "encoding": {"x": {"datum": 0.175}, "y": {"datum": 1.302}}},
    {"data": {"values": [{}]}, "mark": {"type": "text", "text": "α", "align": "center", "baseline": "middle", "fontSize": 11, "fontStyle": "italic"},
     "encoding": {"x": {"datum": 0.562}, "y": {"datum": 1.26}}},
    {"data": {"values": [{}]}, "mark": {"type": "text", "text": "p", "align": "left", "baseline": "middle", "dx": 3, "dy": 3, "fontSize": 7},
     "encoding": {"x": {"datum": 0.562}, "y": {"datum": 1.26}}},
    {"data": {"values": [{}]}, "mark": {"type": "text", "text": "∞", "align": "left", "baseline": "middle", "dx": 3, "dy": -4, "fontSize": 6},
     "encoding": {"x": {"datum": 0.562}, "y": {"datum": 1.26}}}
   ]}
 ], "spacing": 47, "bounds": "flush", "resolve": {"scale": {"color": "independent"}, "legend": {"color": "independent"}}}
 ], "spacing": -3, "resolve": {"scale": {"color": "independent"}, "legend": {"color": "independent"}}},
 {"hconcat": [
  {"width": 187, "height": 1, "view": {"stroke": null}, "data": {"values": [{"k": 0}]}, "mark": {"type": "point", "opacity": 0}, "encoding": {}},
  {"width": 282, "height": 227,
   "title": {"text": "(e)", "dx": -51, "offset": -17},
   "layer": [
    {"data": {"name": "eline"}, "mark": {"type": "line", "strokeWidth": 1.8, "interpolate": "monotone"},
     "encoding": {
      "x": {"field": "T", "type": "quantitative", "scale": {"domain": [110, 200], "nice": false, "zero": false}, "axis": {"title": "Temperature (°C)", "values": [120, 140, 160, 180, 200], "format": "d"}},
      "y": {"field": "v", "type": "quantitative", "scale": {"domain": [0, 0.475], "nice": false}, "axis": {"title": "dα/dt (min⁻¹)", "values": [0, 0.05, 0.1, 0.15, 0.2, 0.25, 0.3, 0.35, 0.4, 0.45], "labelExpr": "round(datum.value*100) % 10 == 0 ? format(datum.value, '.1f') : ''"}},
      "stroke": {"field": "s", "type": "nominal", "scale": {"domain": ["Actual data (5 K min⁻¹)", "Actual data (10 K min⁻¹)", "Actual data (15 K min⁻¹)"], "range": ["#3DF0B5", "#46B3F2", "#8C2FE8"]}, "legend": {"orient": "none", "legendX": 15, "legendY": 27.5, "title": null, "symbolType": "M-2,0H2", "symbolSize": 100, "rowPadding": 2, "labelOffset": 6, "labelFontSize": 10}}
     }},
    {"data": {"name": "efit"}, "mark": {"type": "point", "filled": true, "size": 40, "opacity": 1, "strokeWidth": 0},
     "encoding": {
      "x": {"field": "T", "type": "quantitative"},
      "y": {"field": "v", "type": "quantitative"},
      "fill": {"field": "s", "type": "nominal", "scale": {"domain": ["Fit data (5 K min⁻¹)", "Fit data (10 K min⁻¹)", "Fit data (15 K min⁻¹)"], "range": ["#3DF0B5", "#46B3F2", "#8C2FE8"]}, "legend": {"orient": "none", "legendX": 17, "legendY": 68, "title": null, "symbolType": "circle", "symbolSize": 40, "rowPadding": 5, "labelOffset": 9, "labelFontSize": 10}}
     }},
    {"data": {"name": "efit"}, "mark": {"type": "point", "filled": true, "size": 4, "color": "white", "opacity": 0.6},
     "encoding": {
      "x": {"field": "T", "type": "quantitative"},
      "y": {"field": "v", "type": "quantitative"}
     }},
    {"data": {"values": [{}]}, "mark": {"type": "rect", "fill": "#777777", "xOffset": 2, "yOffset": 2},
     "encoding": {"x": {"datum": 123.1}, "x2": {"datum": 139.0}, "y": {"datum": 0.4645}, "y2": {"datum": 0.429}}},
    {"data": {"values": [{}]}, "mark": {"type": "rect", "fill": "white", "stroke": "black", "strokeWidth": 1},
     "encoding": {"x": {"datum": 123.1}, "x2": {"datum": 139.0}, "y": {"datum": 0.4645}, "y2": {"datum": 0.429}}},
    {"data": {"values": [{}]}, "mark": {"type": "text", "text": "OPEP", "align": "right", "baseline": "middle", "dx": 8, "fontSize": 12, "fontWeight": "bold"},
     "encoding": {"x": {"datum": 131.05}, "y": {"datum": 0.4468}}},
    {"data": {"values": [{}]}, "mark": {"type": "text", "text": "0.02", "align": "left", "baseline": "middle", "dx": 9, "dy": 3, "fontSize": 8, "fontWeight": "bold"},
     "encoding": {"x": {"datum": 131.05}, "y": {"datum": 0.4468}}}
   ],
   "resolve": {"scale": {"fill": "independent", "stroke": "independent"}}}
 ], "spacing": 0, "bounds": "flush"}
],
"spacing": 2,
"resolve": {"scale": {"color": "independent", "fill": "independent", "stroke": "independent"}, "legend": {"color": "independent", "fill": "independent", "stroke": "independent"}}
}
